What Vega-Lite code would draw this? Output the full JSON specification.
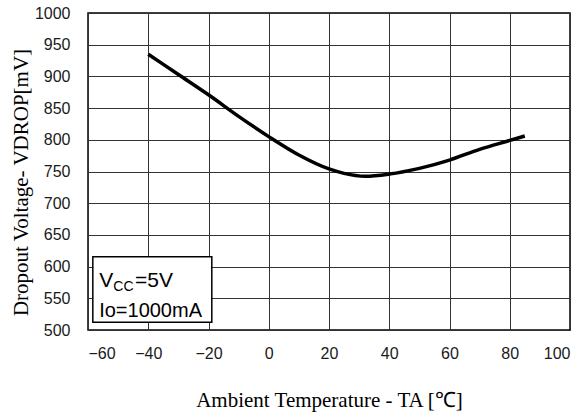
{
  "$schema": "https://vega.github.io/schema/vega-lite/v6.json",
  "width": 482,
  "height": 317,
  "autosize": {"type": "none"},
  "padding": {"left": 88, "top": 13, "right": 16, "bottom": 86},
  "background": "white",
  "config": {
    "view": {"stroke": "black", "strokeWidth": 1.5},
    "axis": {
      "grid": true,
      "gridColor": "#333333",
      "gridWidth": 1,
      "gridOpacity": 1,
      "domain": false,
      "ticks": false,
      "labelOverlap": false,
      "labelFont": "Liberation Sans",
      "labelFontSize": 16,
      "labelColor": "#1a1a1a",
      "titleFont": "Liberation Serif",
      "titleFontSize": 21,
      "titleFontWeight": "normal",
      "titleColor": "black"
    },
    "axisX": {
      "labelPadding": 15,
      "titleY": 76,
      "titleBaseline": "alphabetic"
    },
    "axisY": {
      "format": "d",
      "labelPadding": 18,
      "titleX": -61,
      "titleY": 169,
      "titleBaseline": "alphabetic"
    }
  },
  "data": {
    "values": [
      {"t": -40, "v": 935},
      {"t": -30, "v": 903},
      {"t": -20, "v": 871},
      {"t": -10, "v": 837},
      {"t": 0, "v": 805},
      {"t": 10, "v": 776},
      {"t": 20, "v": 754},
      {"t": 25, "v": 747},
      {"t": 32, "v": 742.5},
      {"t": 40, "v": 746},
      {"t": 50, "v": 755},
      {"t": 60, "v": 768},
      {"t": 70, "v": 785},
      {"t": 80, "v": 799},
      {"t": 85, "v": 806}
    ]
  },
  "layer": [
    {
      "mark": {"type": "line", "color": "black", "strokeWidth": 3.5, "interpolate": "monotone"},
      "encoding": {
        "x": {
          "field": "t", "type": "quantitative",
          "scale": {"domain": [-60, 100], "nice": false},
          "axis": {"title": "Ambient Temperature - TA [℃]", "values": [-60, -40, -20, 0, 20, 40, 60, 80, 100]}
        },
        "y": {
          "field": "v", "type": "quantitative",
          "scale": {"domain": [500, 1000], "nice": false, "zero": false},
          "axis": {"title": "Dropout Voltage- VDROP[mV]", "values": [500, 550, 600, 650, 700, 750, 800, 850, 900, 950, 1000]}
        }
      }
    },
    {
      "data": {"values": [{}]},
      "mark": {"type": "rect", "fill": "white", "stroke": "black", "strokeWidth": 1.5},
      "encoding": {
        "x": {"datum": -58.4, "type": "quantitative", "axis": {"title": "Ambient Temperature - TA [℃]", "values": [-60, -40, -20, 0, 20, 40, 60, 80, 100]}},
        "x2": {"datum": -18.9},
        "y": {"datum": 615.6, "type": "quantitative", "axis": {"title": "Dropout Voltage- VDROP[mV]", "values": [500, 550, 600, 650, 700, 750, 800, 850, 900, 950, 1000]}},
        "y2": {"datum": 512.2}
      }
    },
    {
      "data": {"values": [{}]},
      "mark": {"type": "text", "text": "V", "font": "Liberation Sans", "fontSize": 21, "fontWeight": "normal", "align": "left", "baseline": "alphabetic", "fill": "black"},
      "encoding": {
        "x": {"datum": -56.3, "type": "quantitative", "axis": {"title": "Ambient Temperature - TA [℃]", "values": [-60, -40, -20, 0, 20, 40, 60, 80, 100]}},
        "y": {"datum": 568, "type": "quantitative", "axis": {"title": "Dropout Voltage- VDROP[mV]", "values": [500, 550, 600, 650, 700, 750, 800, 850, 900, 950, 1000]}}
      }
    },
    {
      "data": {"values": [{}]},
      "mark": {"type": "text", "text": "CC", "font": "Liberation Sans", "fontSize": 14, "fontWeight": "normal", "align": "left", "baseline": "alphabetic", "fill": "black"},
      "encoding": {
        "x": {"datum": -51.6, "type": "quantitative", "axis": {"title": "Ambient Temperature - TA [℃]", "values": [-60, -40, -20, 0, 20, 40, 60, 80, 100]}},
        "y": {"datum": 562, "type": "quantitative", "axis": {"title": "Dropout Voltage- VDROP[mV]", "values": [500, 550, 600, 650, 700, 750, 800, 850, 900, 950, 1000]}}
      }
    },
    {
      "data": {"values": [{}]},
      "mark": {"type": "text", "text": "=5V", "font": "Liberation Sans", "fontSize": 21, "fontWeight": "normal", "align": "left", "baseline": "alphabetic", "fill": "black"},
      "encoding": {
        "x": {"datum": -44.4, "type": "quantitative", "axis": {"title": "Ambient Temperature - TA [℃]", "values": [-60, -40, -20, 0, 20, 40, 60, 80, 100]}},
        "y": {"datum": 568, "type": "quantitative", "axis": {"title": "Dropout Voltage- VDROP[mV]", "values": [500, 550, 600, 650, 700, 750, 800, 850, 900, 950, 1000]}}
      }
    },
    {
      "data": {"values": [{}]},
      "mark": {"type": "text", "text": "Io=1000mA", "font": "Liberation Sans", "fontSize": 20, "fontWeight": "normal", "align": "left", "baseline": "alphabetic", "fill": "black"},
      "encoding": {
        "x": {"datum": -56.3, "type": "quantitative", "axis": {"title": "Ambient Temperature - TA [℃]", "values": [-60, -40, -20, 0, 20, 40, 60, 80, 100]}},
        "y": {"datum": 521, "type": "quantitative", "axis": {"title": "Dropout Voltage- VDROP[mV]", "values": [500, 550, 600, 650, 700, 750, 800, 850, 900, 950, 1000]}}
      }
    }
  ]
}
